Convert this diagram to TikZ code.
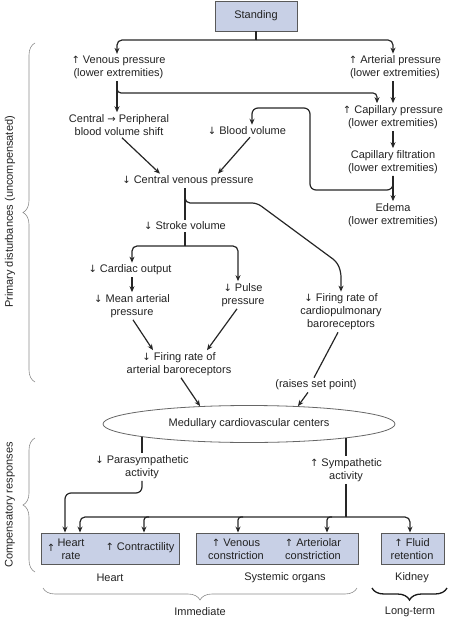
\documentclass[tikz,border=0pt]{standalone}
\usepackage{fontspec}
\setmainfont{Liberation Sans}
\newfontfamily\arrfont{DejaVu Sans}
\newcommand{\upar}{{\arrfont\fontsize{10}{13}\selectfont ↑}}
\newcommand{\dnar}{{\arrfont\fontsize{10}{13}\selectfont ↓}}
\newcommand{\rtar}{{\arrfont\fontsize{10}{13}\selectfont →}}
\usetikzlibrary{arrows.meta,shapes.geometric,decorations.pathreplacing,calc}
\definecolor{txt}{HTML}{222222}
\definecolor{boxfill}{HTML}{C8D0E6}
\begin{document}
\begin{tikzpicture}[x=1pt,y=-1pt,
  lbl/.style={font=\fontsize{11}{13}\selectfont, text=txt, align=center, inner sep=2pt},
  con/.style={line width=1.2pt, draw=black!85},
  arr/.style={con, -{Stealth[length=6pt,width=5pt]}},
  bx/.style={draw=black!65, fill=boxfill, line width=0.9pt, inner sep=0pt},
  brc/.style={decorate, decoration={brace, amplitude=12pt}, draw=black!45, line width=0.6pt}]
\useasboundingbox (0,0) rectangle (449,620);

% nodes
\node[bx, minimum width=82pt, minimum height=30pt, font=\fontsize{11}{13}\selectfont, text=txt] (stand) at (256,16) {Standing};
\node[lbl] (ven) at (118.5,67.5) {\upar{} Venous pressure\\(lower extremities)};
\node[lbl] (art) at (395,67.5) {\upar{} Arterial pressure\\(lower extremities)};
\node[lbl] (cap) at (393,117) {\upar{} Capillary pressure\\(lower extremities)};
\node[lbl] (fil) at (393,162) {Capillary filtration\\(lower extremities)};
\node[lbl] (ede) at (393,215) {Edema\\(lower extremities)};
\node[lbl] (cen) at (119,125) {Central \rtar{} Peripheral\\blood volume shift};
\node[lbl] (bv) at (247,131) {\dnar{} Blood volume};
\node[lbl] (cvp) at (188,181) {\dnar{} Central venous pressure};
\node[lbl] (sv) at (185,226) {\dnar{} Stroke volume};
\node[lbl] (co) at (130,270) {\dnar{} Cardiac output};
\node[lbl] (map) at (132,306) {\dnar{} Mean arterial\\pressure};
\node[lbl] (pp) at (243,295) {\dnar{} Pulse\\pressure};
\node[lbl] (cpb) at (341,312) {\dnar{} Firing rate of\\cardiopulmonary\\baroreceptors};
\node[lbl] (abr) at (179,364) {\dnar{} Firing rate of\\arterial baroreceptors};
\node[lbl] (rsp) at (316,385) {(raises set point)};
\node[ellipse, draw=black!60, fill=white, line width=0.8pt, minimum width=292pt, minimum height=37pt, inner sep=0pt, font=\fontsize{11}{13}\selectfont, text=txt] (med) at (249,424) {Medullary cardiovascular centers};
\node[lbl] (para) at (142,467) {\dnar{} Parasympathetic\\activity};
\node[lbl] (symp) at (346,470) {\upar{} Sympathetic\\activity};

\node[bx, minimum width=138pt, minimum height=31pt] (hb) at (110,548.5) {};
\node[bx, minimum width=162pt, minimum height=31pt] (sb) at (277,548.5) {};
\node[bx, minimum width=63pt, minimum height=31pt] (kb) at (412.5,548.5) {};
\node[lbl] (hrup) at (51,548) {\upar};
\node[lbl] (hr) at (71,549) {Heart\\rate};
\node[lbl] (ctr) at (140,548) {\upar{} Contractility};
\node[lbl] (vc) at (236,549) {\upar{} Venous\\constriction};
\node[lbl] (ac) at (313,549) {\upar{} Arteriolar\\constriction};
\node[lbl] (fr) at (412,549) {\upar{} Fluid\\retention};

\node[lbl] (lheart) at (110,578) {Heart};
\node[lbl] (lsys) at (285,578) {Systemic organs};
\node[lbl] (lkid) at (412,578) {Kidney};
\node[lbl] (limm) at (200,612) {Immediate};
\node[lbl] (llong) at (410,612) {Long-term};

\node[lbl, rotate=90] (prim) at (10,212) {Primary disturbances (uncompensated)};
\node[lbl, rotate=90] (comp) at (10,505) {Compensatory responses};

% braces
\draw[brc] (35,382) -- (35,43);
\draw[brc] (35,572) -- (35,438);
\draw[brc] (357,588) -- (43,588);
\draw[brc, draw=black!90, line width=1.3pt] (447,588) -- (372,588);

% connectors
\coordinate (t1) at (256,40);
\draw[con] (stand.south) -- (t1);
\draw[arr, rounded corners=5pt] (t1) -| ([xshift=-1.5]ven.north);
\draw[arr, rounded corners=5pt] (t1) -| ([xshift=-2]art.north);

\draw[arr] ([xshift=-1.5]ven.south) -- ([xshift=-2]cen.north);
\coordinate (v1) at (117,93);
\draw[arr, rounded corners=4pt] ([xshift=-1.5]ven.south) |- ($(v1)+(260,0)$) -- ([xshift=-16]cap.north);
\draw[arr] ([xshift=-2]art.south) -- (cap.north);
\draw[arr] (cap.south) -- (fil.north);
\draw[arr] (fil.south) -- (ede.north);
\coordinate (e1) at (310,190);
\coordinate (e2) at (310,108);
\draw[arr, rounded corners=6pt] (fil.south) |- (e1) -- (e2) -| ([xshift=5]bv.north);

\draw[arr] ([xshift=3]cen.south) -- ([xshift=-28]cvp.north);
\draw[arr] ([xshift=3]bv.south) -- ([xshift=30]cvp.north);

\draw[con] ([xshift=-3]cvp.south) -- (sv.north);
\coordinate (c1) at (257,203);
\coordinate (c2) at (337,262);
\coordinate (c3) at (341,272);
\draw[arr, rounded corners=5pt] ([xshift=-3]cvp.south) |- (c1) -- (c2) -- (c3) -- (cpb.north);

\coordinate (s1) at (185,246);
\draw[con] (sv.south) -- (s1);
\draw[arr, rounded corners=5pt] (s1) -| ([xshift=2]co.north);
\draw[arr, rounded corners=5pt] (s1) -| ([xshift=-5]pp.north);
\draw[arr] ([xshift=2]co.south) -- (map.north);
\draw[arr] ([xshift=1]map.south) -- ([xshift=-26]abr.north);
\draw[arr] ([xshift=-6]pp.south) -- ([xshift=28]abr.north);
\draw[con] ([xshift=-3]cpb.south) -- ([xshift=-2]rsp.north);
\draw[arr] ([xshift=-8]rsp.south) -- (med.20);
\draw[arr] ([xshift=2]abr.south) -- (med.160);

\coordinate (m1) at ($(med.center)+(-107,12.6)$);
\coordinate (m2) at ($(med.center)+(97,13.8)$);
\draw[con] (m1) -- (para.north);
\draw[con] (m2) -- (symp.north);
\coordinate (pb) at (65,493);
\draw[arr, rounded corners=6pt] (para.south) |- (pb) -- ([xshift=-45]hb.north);

\coordinate (sb0) at (346,517);
\draw[con] (symp.south) -- (sb0);
\draw[arr, rounded corners=5pt] (sb0) -| ([xshift=-30]hb.north);
\draw[arr, rounded corners=5pt] (sb0) -| ([xshift=-2.5]kb.north);
\coordinate (b1) at (149,517);
\coordinate (b2) at (243,517);
\coordinate (b3) at (332,517);
\draw[arr, rounded corners=3pt] (b1) -| ([xshift=34]hb.north);
\draw[arr, rounded corners=3pt] (b2) -| ([xshift=-39]sb.north);
\draw[arr, rounded corners=3pt] (b3) -| ([xshift=50]sb.north);
\end{tikzpicture}
\end{document}
